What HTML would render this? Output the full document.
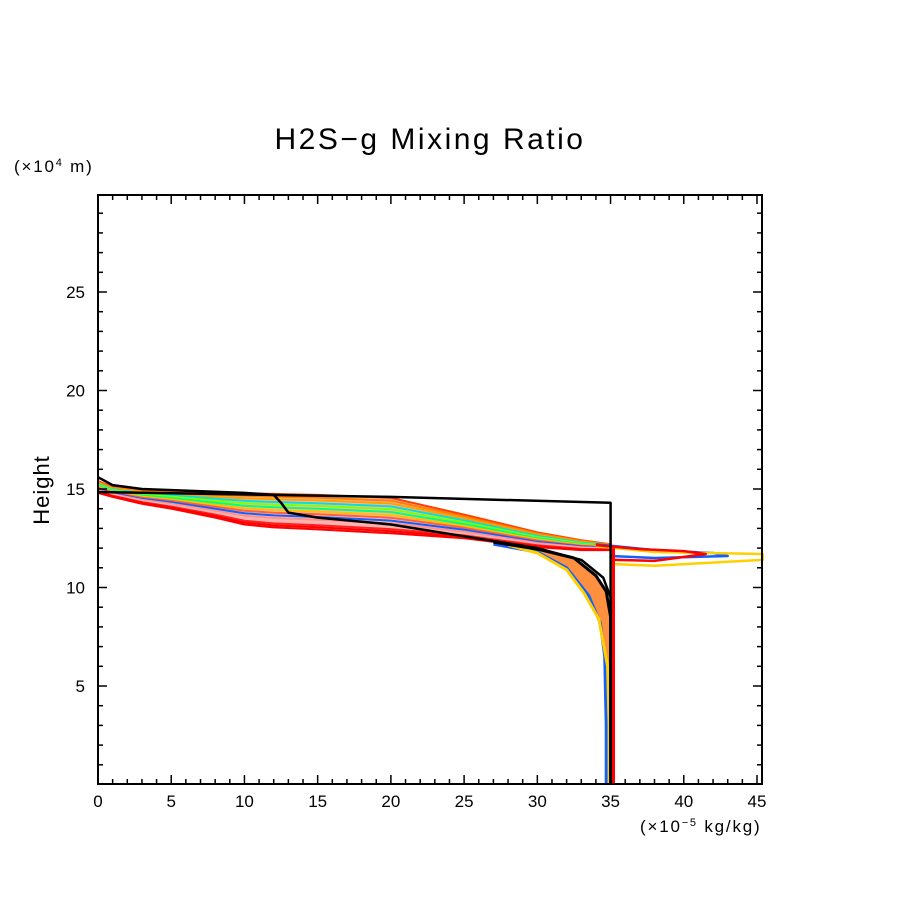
<!DOCTYPE html>
<html><head><meta charset="utf-8"><style>
body{margin:0;background:#fff;}
svg text{font-family:"Liberation Sans",sans-serif;fill:#000;}
</style></head><body>
<svg id="chart" width="904" height="904" viewBox="0 0 904 904" xmlns="http://www.w3.org/2000/svg">
<rect width="904" height="904" fill="#fff"/>
<text x="430" y="149" font-size="30" letter-spacing="2.5" text-anchor="middle">H2S−g Mixing Ratio</text>
<text x="14" y="172" font-size="17" letter-spacing="1.8">(×10<tspan font-size="11" dy="-6">4</tspan><tspan dy="6"> m)</tspan></text>
<text x="640" y="832" font-size="17" letter-spacing="1.8">(×10<tspan font-size="11" dy="-6">−5</tspan><tspan dy="6"> kg/kg)</tspan></text>
<text transform="translate(49,490) rotate(-90)" font-size="22" letter-spacing="1" text-anchor="middle">Height</text>
<g id="series"></g>
<g id="axes"></g>
</svg>
<script>
const xTicks=[0,5,10,15,20,25,30,35,40,45];
const yTicks=[5,10,15,20,25];
// band edges (height ×10^4 m) at x values (×10^-5 kg/kg)
const bandX=[0,1,3,5,8,10,12,15,20,25,30,33,35];
const bandTop=[15.4,15.1,14.95,14.9,14.8,14.78,14.75,14.7,14.55,13.7,12.8,12.4,12.2];
const bandBot=[14.8,14.6,14.25,14.0,13.55,13.2,13.05,12.95,12.75,12.5,12.05,11.9,11.9];
const curveFrac=[0,0.08,0.16,0.24,0.32,0.4,0.48,0.56,0.64,0.72,0.8,0.88,0.94,1];
const curveColor=["#ff4000","#ff8000","#ffa000","#00e0e0","#80ff00","#00ff80","#ffc000","#ff6040","#1060ff","#ff9090","#ffb0b0","#ff2020","#ff0000","#ff0000"];
// lower branch curves
const branchX=[[27,30,32,33.5,34.3,34.6,34.7,34.7],[28,30,32,33.2,34.2,34.8,34.9,34.9],[27,30,32.5,34,34.7,35,35,35]];
const branchY=[[12.2,11.8,11.0,9.6,8.2,6.5,3,0],[12.15,11.75,10.9,9.7,8.4,6,3,0],[12.3,11.95,11.5,10.6,9.8,8.5,3,0]];
const branchColor=["#1060ff","#ffd000","#000000"];
// right excursions
const exX=[[34,38,42,43,38,35],[34,38,45.4,45.4,38,35],[34,37,40,41.5,38,35.3]];
const exY=[[12.2,11.9,11.75,11.6,11.5,11.6],[12.1,11.8,11.7,11.4,11.1,11.2],[12.15,11.95,11.85,11.7,11.35,11.4]];
const exColor=["#1060ff","#ffd000","#ff0000"];
// black profiles
const initX=[0,20,35,35];const initY=[14.85,14.6,14.3,0];
const finX=[0,1,3,10,12,12.5,13,15,20,25,30,33,34.5,35,35];
const finY=[15.6,15.2,15.0,14.8,14.7,14.3,13.8,13.55,13.2,12.6,12.0,11.4,10.5,9.5,0];
const x0=98,x1=762,yB=784,yT=195;
const sx=v=>98+v*(757-98)/45;
const sy=v=>784.5-v*(784.5-292)/25;
const NS="http://www.w3.org/2000/svg";
const S=document.getElementById('series'),A=document.getElementById('axes');
function poly(xs,ys,col,w,name){const p=document.createElementNS(NS,'polyline');
p.setAttribute('points',xs.map((x,i)=>sx(x).toFixed(1)+','+sy(ys[i]).toFixed(1)).join(' '));
p.setAttribute('fill','none');p.setAttribute('stroke',col);p.setAttribute('stroke-width',w);
p.setAttribute('stroke-linejoin','round');


S.appendChild(p);}
// pink fill band
{const p=document.createElementNS(NS,'polygon');
const pts=bandX.map((x,i)=>sx(x)+','+sy(bandTop[i])).concat(bandX.slice().reverse().map((x,i)=>sx(x)+','+sy(bandBot[bandX.length-1-i])));
p.setAttribute('points',pts.join(' '));p.setAttribute('fill','#ffb8b0');


S.appendChild(p);}
// branch fill between blue branch and black branch
{const p=document.createElementNS(NS,'polygon');
const a=branchX[0].map((x,i)=>sx(x)+','+sy(branchY[0][i]));
const b=branchX[2].map((x,i)=>sx(x)+','+sy(branchY[2][i])).reverse();
p.setAttribute('points',a.concat(b).join(' '));p.setAttribute('fill','#ff9040');


S.appendChild(p);}
curveFrac.forEach((f,k)=>{poly(bandX,bandX.map((x,i)=>bandTop[i]*(1-f)+bandBot[i]*f),curveColor[k],2,'profile-curve');});
branchX.forEach((xs,k)=>poly(xs,branchY[k],branchColor[k],3,'lower-branch-curve'));
exX.forEach((xs,k)=>poly(xs,exY[k],exColor[k],2.5,'right-excursion-curve'));
poly([35.2,35.2],[12.0,0],'#ff0000',3,'red-vertical');
poly(initX,initY,'#000',2.5,'initial-profile');
poly(finX,finY,'#000',2.5,'final-profile');
function line(a,b,c,d,w,name){const l=document.createElementNS(NS,'line');
l.setAttribute('x1',a);l.setAttribute('y1',b);l.setAttribute('x2',c);l.setAttribute('y2',d);
l.setAttribute('stroke','#000');l.setAttribute('stroke-width',w);


A.appendChild(l);}
function txt(x,y,s,anchor,name){const t=document.createElementNS(NS,'text');
t.setAttribute('x',x);t.setAttribute('y',y);t.setAttribute('font-size','17');t.setAttribute('text-anchor',anchor);t.textContent=s;


A.appendChild(t);}
const fr=document.createElementNS(NS,'rect');
fr.setAttribute('x',x0);fr.setAttribute('y',yT);fr.setAttribute('width',x1-x0);fr.setAttribute('height',yB-yT);
fr.setAttribute('fill','none');fr.setAttribute('stroke','#000');fr.setAttribute('stroke-width','2');


A.appendChild(fr);
for(let v=1;v<=45;v++){const X=sx(v);const L=v%5==0?9:5;line(X,yB,X,yB-L,1.5,'x-tick');line(X,yT,X,yT+L,1.5,'x-tick');}
for(let v=1;v<=29;v++){const Y=sy(v);const L=v%5==0?9:5;line(x0,Y,x0+L,Y,1.5,'y-tick');line(x1,Y,x1-L,Y,1.5,'y-tick');}
xTicks.forEach(v=>txt(sx(v),807,String(v),'middle','x-tick-label'));
yTicks.forEach(v=>txt(85,sy(v)+6,String(v),'end','y-tick-label'));
</script>
</body></html>
